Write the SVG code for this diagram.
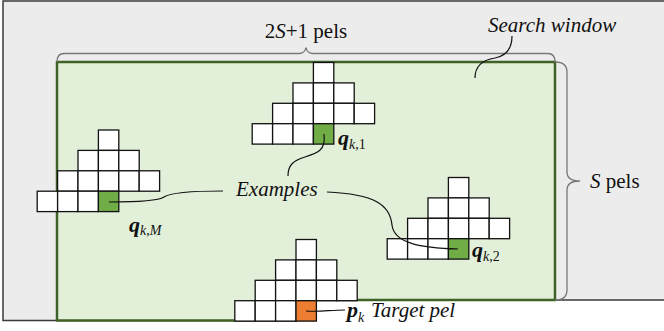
<svg xmlns="http://www.w3.org/2000/svg" xmlns:xlink="http://www.w3.org/1999/xlink" width="664" height="331" viewBox="0 0 664 331">
<style>
text{font-family:'Liberation Serif','Times New Roman',Times,serif}
.t{font-size:21px;fill:#111}
.i{font-style:italic}
.q{font-size:22px;font-weight:bold;font-style:italic;fill:#111}
.sub{font-size:14px;font-weight:normal;fill:#111}
.cell{fill:#fff;stroke:#111;stroke-width:1.3}
.lead{fill:none;stroke:#111;stroke-width:1.2}
.brace{fill:none;stroke:#777;stroke-width:1.3}
</style>
<defs>
<g id="tpl">
<rect class="cell" x="0" y="0" width="20.4" height="20.4"/>
<rect class="cell" x="-20.4" y="20.4" width="20.4" height="20.4"/>
<rect class="cell" x="0" y="20.4" width="20.4" height="20.4"/>
<rect class="cell" x="20.4" y="20.4" width="20.4" height="20.4"/>
<rect class="cell" x="-40.8" y="40.8" width="20.4" height="20.4"/>
<rect class="cell" x="-20.4" y="40.8" width="20.4" height="20.4"/>
<rect class="cell" x="0" y="40.8" width="20.4" height="20.4"/>
<rect class="cell" x="20.4" y="40.8" width="20.4" height="20.4"/>
<rect class="cell" x="40.8" y="40.8" width="20.4" height="20.4"/>
<rect class="cell" x="-61.2" y="61.2" width="20.4" height="20.4"/>
<rect class="cell" x="-40.8" y="61.2" width="20.4" height="20.4"/>
<rect class="cell" x="-20.4" y="61.2" width="20.4" height="20.4"/>
</g>
</defs>
<rect x="0" y="0" width="664" height="331" fill="#fff"/>
<g id="background">
<path d="M3,1 H666 V300 H296 V320.5 H3 Z" fill="#ececec" stroke="#3a3a3a" stroke-width="1.5"/>
</g>
<g id="search-window">
<path d="M57,62 H555 V300 H296 V320.5 H57 Z" fill="#e2efd9" stroke="#3f6327" stroke-width="2.5"/>
</g>
<g id="braces">
<path class="brace" d="M57,62 Q57,53.5 64,53.5 H299 Q305,53.5 306,47.5 Q307,53.5 313,53.5 H548 Q555,53.5 555,62"/>
<path class="brace" d="M555,62 Q567,62 567,72 V172 Q567,181 580,181 Q567,181 567,190 V290 Q567,300 555,300"/>
</g>
<g id="node-qk1">
<use xlink:href="#tpl" x="313.4" y="62.5"/>
<rect class="cell" x="313.4" y="123.7" width="20.4" height="20.4" style="fill:#70ad47"/>
</g>
<g id="node-qkM">
<use xlink:href="#tpl" x="98.4" y="130"/>
<rect class="cell" x="98.4" y="191.2" width="20.4" height="20.4" style="fill:#70ad47"/>
</g>
<g id="node-qk2">
<use xlink:href="#tpl" x="448.4" y="177.5"/>
<rect class="cell" x="448.4" y="238.7" width="20.4" height="20.4" style="fill:#70ad47"/>
</g>
<g id="node-pk">
<use xlink:href="#tpl" x="296" y="239.5"/>
<rect class="cell" x="296" y="300.7" width="20.4" height="20.4" style="fill:#ed7d31"/>
</g>
<g id="connectors">
<path class="lead" d="M512,36 C512,50 505,56 495,58 C482,60 475,66 475,78"/>
<path class="lead" d="M324,134 C326,150 318,153 305,157 C292,161 288,166 288,176"/>
<path class="lead" d="M109,202 C140,202 158,201 164,197 C170,193 185,191 223,191"/>
<path class="lead" d="M327,192 C375,194 390,205 392,225 C394,243 420,248 458,249"/>
<path class="lead" d="M306,311 C320,312 330,310 345,310"/>
</g>
<g id="labels">
<text class="t" x="306" y="38" text-anchor="middle">2<tspan class="i">S</tspan>+1 pels</text>
<text class="t i" x="488" y="32">Search window</text>
<text class="t" x="590" y="188"><tspan class="i">S</tspan> pels</text>
<text class="t i" x="236" y="196">Examples</text>
<text class="q" x="338" y="145">q<tspan class="sub" dy="4"><tspan font-style="italic">k</tspan><tspan font-style="normal">,1</tspan></tspan></text>
<text class="q" x="129" y="232">q<tspan class="sub" dy="3"><tspan font-style="italic">k,M</tspan></tspan></text>
<text class="q" x="472" y="257">q<tspan class="sub" dy="4"><tspan font-style="italic">k</tspan><tspan font-style="normal">,2</tspan></tspan></text>
<text class="q" x="347" y="317">p<tspan class="sub" dy="5" font-style="italic">k</tspan></text>
<text class="t i" x="371" y="317">Target pel</text>
</g>
</svg>
